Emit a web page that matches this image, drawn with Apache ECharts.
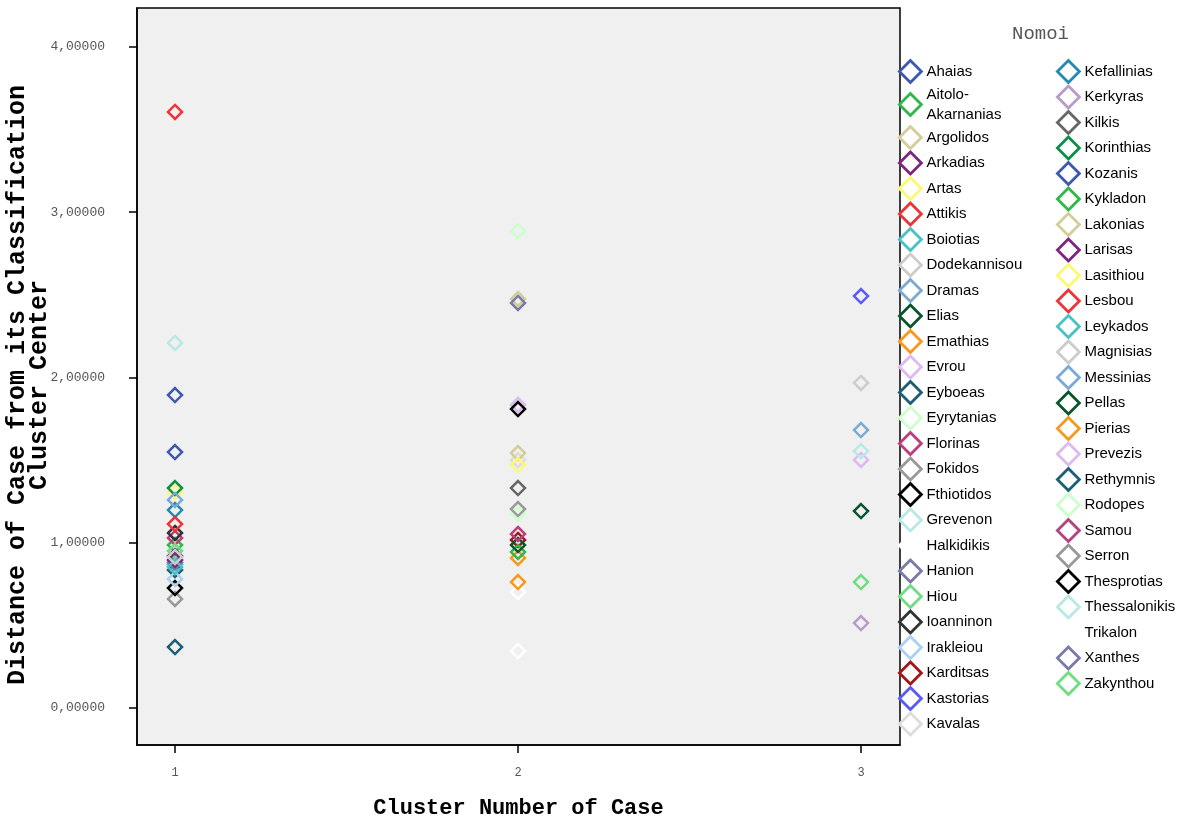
<!DOCTYPE html>
<html>
<head>
<meta charset="utf-8">
<script src="https://cdn.jsdelivr.net/npm/echarts@6/dist/echarts.min.js"></script>
<style>
html,body{margin:0;padding:0;background:#fff;}
#chart{width:1184px;height:819px;}
</style>
</head>
<body>
<div id="chart"></div>
<script>
// Nomoi (prefectures), in legend order
const nomoi = ["Ahaias","Aitolo-Akarnanias","Argolidos","Arkadias","Artas","Attikis","Boiotias","Dodekannisou","Dramas","Elias","Emathias","Evrou","Eyboeas","Eyrytanias","Florinas","Fokidos","Fthiotidos","Grevenon","Halkidikis","Hanion","Hiou","Ioanninon","Irakleiou","Karditsas","Kastorias","Kavalas",
"Kefallinias","Kerkyras","Kilkis","Korinthias","Kozanis","Kykladon","Lakonias","Larisas","Lasithiou","Lesbou","Leykados","Magnisias","Messinias","Pellas","Pierias","Prevezis","Rethymnis","Rodopes","Samou","Serron","Thesprotias","Thessalonikis","Trikalon","Xanthes","Zakynthou"];
// Cluster number of each case
const clusterNumber = [1,1,2,1,1,1,1,3,3,3,2,3,1,2,1,1,1,3,2,1,1,1,1,2,3,2,
1,3,2,1,1,2,2,1,2,1,1,1,1,2,2,2,1,2,2,2,2,1,2,2,3];
// Distance of case from its classification cluster center
const distance = [1.894,0.986,2.475,0.920,1.307,3.607,0.870,1.967,1.682,1.192,0.908,1.501,0.835,2.887,1.029,0.660,0.726,1.555,0.702,0.880,0.950,1.059,0.781,1.017,2.493,1.500,
1.198,0.514,1.331,1.331,1.549,0.944,1.543,0.896,1.470,1.113,0.853,0.914,1.259,0.986,0.762,1.834,0.369,1.174,1.053,1.204,1.809,2.209,0.345,2.451,0.762];
// SPSS default marker palette (cycles after 30)
const palette = ["#3e58ac","#2eb848","#d3ce97","#7c277d","#fbf873","#ef3338","#48c2c5","#cccccc","#7aaad5","#0a562c","#f8981d","#ddbaf1","#1a5f76","#ccffcc","#bb3f7f","#999999","#000000","#b9e8e6","#ffffff","#797aa7","#70dc84","#333333","#acd0ee","#a21619","#5858ff","#dddddd","#248bac","#b89bc9","#666666","#0d8f49"];
const yTicks = [0,1,2,3,4];
const xTicks = [1,2,3];
const yTitle = 'Distance of Case from its Classification\nCluster Center';
const xTitle = 'Cluster Number of Case';

const legendCol1 = nomoi.slice(0,26);
const legendCol2 = nomoi.slice(26);

const series = nomoi.map((n,i)=>({
  name:n,
  type:'scatter',
  symbol:'diamond',
  symbolSize:14,
  data:[[clusterNumber[i],distance[i]]],
  itemStyle:{color:'rgba(0,0,0,0)',borderColor:palette[i%palette.length],borderWidth:2.5,opacity:1},
  emphasis:{disabled:true}
}));

const legendBase = {
  orient:'vertical',
  top:59,
  padding:0,
  itemWidth:22,
  itemHeight:22,
  itemGap:0.7,
  itemTextGap:2,
  selectedMode:false,
  icon:'diamond',
  itemStyle:{borderWidth:2.8,opacity:1},
  textStyle:{fontFamily:'Liberation Sans',fontSize:15,color:'#000',lineHeight:20},
  formatter:n=> n==='Aitolo-Akarnanias' ? 'Aitolo-\nAkarnanias' : n
};

const chart = echarts.init(document.getElementById('chart'));
chart.setOption({
  animation:false,
  backgroundColor:'#ffffff',
  title:{text:'Nomoi',left:1012,top:24,padding:0,textStyle:{fontFamily:'Liberation Mono',fontSize:19,fontWeight:'normal',color:'#555'}},
  legend:[
    Object.assign({},legendBase,{data:legendCol1,left:898}),
    Object.assign({},legendBase,{data:legendCol2,left:1056})
  ],
  graphic:[{
    type:'text',
    x:29,y:385,rotation:Math.PI/2,
    style:{text:yTitle,fontFamily:'Liberation Mono',fontWeight:'bold',fontSize:25,lineHeight:22,
      fill:'#000',align:'center',verticalAlign:'middle'}
  }],
  grid:{left:137,right:284,top:8,bottom:74,outerBoundsMode:'none',containLabel:false,show:true,backgroundColor:'#f0f0f0',borderColor:'#000',borderWidth:1.5},
  xAxis:{
    type:'value',min:0.8892,max:3.1137,
    name:xTitle,nameLocation:'middle',nameGap:52,
    nameTextStyle:{fontFamily:'Liberation Mono',fontWeight:'bold',fontSize:22,color:'#000'},
    axisLine:{show:true,onZero:false,lineStyle:{color:'#000',width:1.5}},
    axisTick:{show:true,length:8,customValues:xTicks,lineStyle:{color:'#000',width:1.5}},
    axisLabel:{customValues:xTicks,margin:22,fontFamily:'Liberation Mono',fontSize:12,color:'#555'},
    splitLine:{show:false}
  },
  yAxis:{
    type:'value',min:-0.2239,max:4.236,
    axisLine:{show:true,onZero:false,lineStyle:{color:'#000',width:1.5}},
    axisTick:{show:true,length:8,customValues:yTicks,lineStyle:{color:'#000',width:1.5}},
    axisLabel:{customValues:yTicks,margin:32,fontFamily:'Liberation Mono',fontSize:13,color:'#555',
      formatter:v=>v.toFixed(5).replace('.',',')},
    splitLine:{show:false}
  },
  series:series
});
</script>
</body>
</html>
